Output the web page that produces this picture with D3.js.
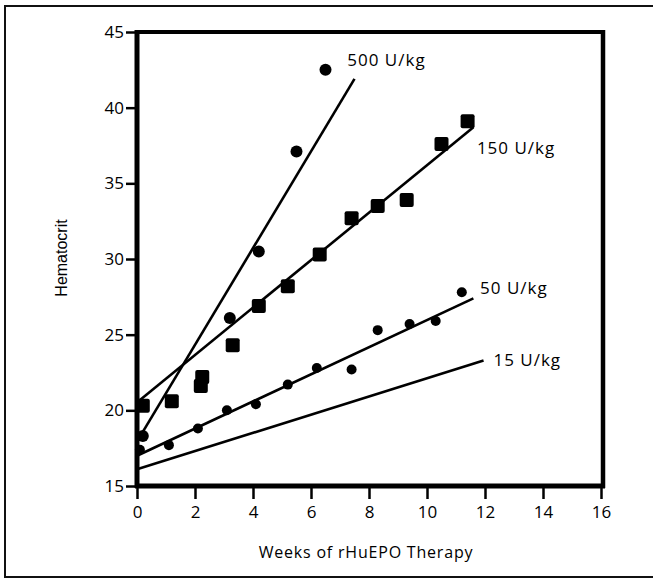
<!DOCTYPE html>
<html>
<head>
<meta charset="utf-8">
<script src="https://cdn.jsdelivr.net/npm/d3@7"></script>
<style>
html,body{margin:0;padding:0;background:#fff;}
svg{display:block;}
</style>
</head>
<body>
<svg id="chart" width="653" height="578"></svg>
<script>
// ---- data ----
const xTicks = [0, 2, 4, 6, 8, 10, 12, 14, 16];
const yTicks = [15, 20, 25, 30, 35, 40, 45];

const weeks500 = [0.2, 3.2, 4.2, 5.5, 6.5];
const hct500   = [18.3, 26.1, 30.5, 37.1, 42.5];

const weeks150 = [0.2, 1.2, 2.2, 2.25, 3.3, 4.2, 5.2, 6.3, 7.4, 8.3, 9.3, 10.5, 11.4];
const hct150   = [20.3, 20.6, 21.6, 22.2, 24.3, 26.9, 28.2, 30.3, 32.7, 33.5, 33.9, 37.6, 39.1];

const weeks50 = [0.1, 1.1, 2.1, 3.1, 4.1, 5.2, 6.2, 7.4, 8.3, 9.4, 10.3, 11.2];
const hct50   = [17.4, 17.7, 18.8, 20.0, 20.4, 21.7, 22.8, 22.7, 25.3, 25.7, 25.9, 27.8];

const fitWeeks500 = [0.05, 7.5];  const fitHct500 = [18.1, 41.9];
const fitWeeks150 = [0.05, 11.6]; const fitHct150 = [20.6, 38.7];
const fitWeeks50  = [0.0, 11.6];  const fitHct50  = [17.0, 27.4];
const fitWeeks15  = [0.0, 11.95]; const fitHct15  = [16.1, 23.3];

const doseLabels = ["500 U/kg", "150 U/kg", "50 U/kg", "15 U/kg"];
const xTitle = "Weeks of rHuEPO Therapy";
const yTitle = "Hematocrit";

// ---- layout ----
const svg = d3.select("#chart");
const X0 = 137, X1 = 601, Y0 = 486, Y1 = 32;
const x = d3.scaleLinear().domain([0, 16]).range([X0, X1]);
const y = d3.scaleLinear().domain([15, 45]).range([Y0, Y1]);
const labelFont = "'Open Sans', 'DejaVu Sans', sans-serif";

// outer border
svg.append("rect").attr("x", 5).attr("y", 6).attr("width", 700).attr("height", 571)
  .attr("fill", "none").attr("stroke", "#111").attr("stroke-width", 2);

// frame
svg.append("line").attr("x1", X0 - 2).attr("x2", X1 + 4).attr("y1", Y1).attr("y2", Y1)
  .attr("stroke", "#000").attr("stroke-width", 4);
svg.append("line").attr("x1", X1 + 2).attr("x2", X1 + 2).attr("y1", Y1 - 2).attr("y2", Y0 + 2)
  .attr("stroke", "#000").attr("stroke-width", 4.5);

// axes
const yAxis = d3.axisLeft(y).tickValues(yTicks).tickSize(11).tickPadding(2).tickFormat(d3.format("d"));
const gy = svg.append("g").attr("transform", `translate(${X0},0)`).call(yAxis);
const xAxis = d3.axisBottom(x).tickValues(xTicks).tickSize(13).tickPadding(7).tickFormat(d3.format("d"));
const gx = svg.append("g").attr("transform", `translate(0,${Y0})`).call(xAxis);
[gx, gy].forEach(g => {
  g.select(".domain").attr("stroke", "#000").attr("stroke-width", 5);
  g.selectAll(".tick line").attr("stroke", "#000").attr("stroke-width", 2.5);
  g.selectAll(".tick text").attr("fill", "#000").style("font-family", labelFont)
    .style("font-size", "17px").style("font-weight", 500);
});
gy.select(".domain").attr("d", `M0,${Y0 + 2}V${Y1 - 2}`);
gx.select(".domain").attr("d", `M${X0 - 2},0H${X1 + 4}`);

// fit lines
const lineGen = d3.line().x(d => x(d[0])).y(d => y(d[1]));
[[fitWeeks500, fitHct500], [fitWeeks150, fitHct150], [fitWeeks50, fitHct50], [fitWeeks15, fitHct15]]
  .forEach(([wx, hy]) => {
    svg.append("path").datum(wx.map((w, i) => [w, hy[i]]))
      .attr("d", lineGen).attr("fill", "none").attr("stroke", "#000").attr("stroke-width", 2.6);
  });

// points
svg.append("g").selectAll("circle").data(weeks500.map((w, i) => [w, hct500[i]])).join("circle")
  .attr("cx", d => x(d[0])).attr("cy", d => y(d[1])).attr("r", 6).attr("fill", "#000");
svg.append("g").selectAll("circle").data(weeks50.map((w, i) => [w, hct50[i]])).join("circle")
  .attr("cx", d => x(d[0])).attr("cy", d => y(d[1])).attr("r", 5).attr("fill", "#000");
const sq = 14;
svg.append("g").selectAll("rect").data(weeks150.map((w, i) => [w, hct150[i]])).join("rect")
  .attr("x", d => x(d[0]) - sq / 2).attr("y", d => y(d[1]) - sq / 2)
  .attr("width", sq).attr("height", sq).attr("rx", 2).attr("fill", "#000");

// dose labels (anchored in data units)
const labelPos = [[7.25, 43.15], [11.72, 37.3], [11.83, 28.07], [12.29, 23.33]];
svg.append("g").selectAll("text").data(doseLabels).join("text")
  .attr("x", (d, i) => x(labelPos[i][0])).attr("y", (d, i) => y(labelPos[i][1]))
  .attr("dy", "0.35em").text(d => d)
  .style("font-family", labelFont).style("font-size", "17px").style("font-weight", 500)
  .style("letter-spacing", "1px").attr("fill", "#000");

// axis titles
svg.append("text").attr("x", 366).attr("y", 558).attr("text-anchor", "middle")
  .text(xTitle).style("font-family", labelFont).style("font-size", "16px").style("font-weight", 500)
  .style("letter-spacing", "0.8px").attr("fill", "#000");
svg.append("text").attr("transform", "translate(67,258) rotate(-90)").attr("text-anchor", "middle")
  .text(yTitle).style("font-family", "'Liberation Sans', Arial, sans-serif").style("font-size", "16px")
  .attr("fill", "#000");
</script>
</body>
</html>
